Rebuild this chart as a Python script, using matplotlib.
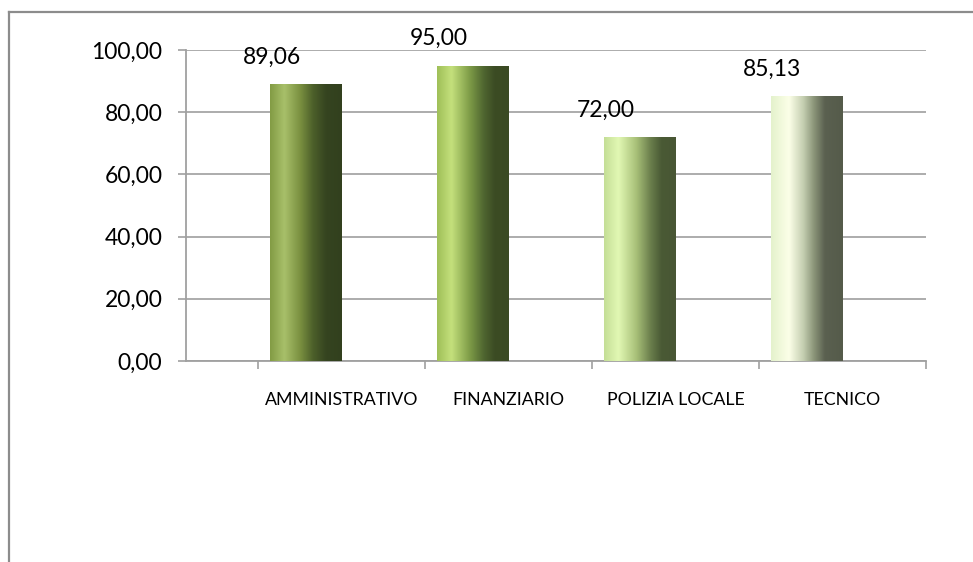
import numpy as np
import matplotlib
matplotlib.use("Agg")
import matplotlib.pyplot as plt
from matplotlib.colors import LinearSegmentedColormap
from matplotlib.lines import Line2D

categories = ["AMMINISTRATIVO", "FINANZIARIO", "POLIZIA LOCALE", "TECNICO"]
values = [89.06, 95.00, 72.00, 85.13]
value_labels = ["89,06", "95,00", "72,00", "85,13"]
yticks = [0, 20, 40, 60, 80, 100]
ytick_labels = ["0,00", "20,00", "40,00", "60,00", "80,00", "100,00"]

gradients = [
    [(0.0, "#829b44"), (0.2, "#a8c06a"), (0.42, "#7a9040"), (0.6, "#4c5f2a"), (0.78, "#354420"), (1.0, "#32401e")],
    [(0.0, "#9fbf58"), (0.2, "#c4e07c"), (0.45, "#7f9d48"), (0.65, "#4f6630"), (0.8, "#3c4c24"), (1.0, "#3a4a23")],
    [(0.0, "#c4de96"), (0.2, "#e2f8b4"), (0.45, "#a8c078"), (0.65, "#6a7e4c"), (0.8, "#4a5a35"), (1.0, "#485634")],
    [(0.0, "#e4f2cc"), (0.25, "#fcffe8"), (0.45, "#c4ceb0"), (0.6, "#8a9478"), (0.75, "#5a6050"), (1.0, "#555b4a")],
]

FONT = "Lato"
plt.rcParams["font.family"] = [FONT, "DejaVu Sans"]

W, H = 973, 562
fig = plt.figure(figsize=(W / 100, H / 100), dpi=100)
fig.patch.set_facecolor("white")

# outer frame
fig.add_artist(Line2D([9 / W, 1.0], [1 - 12 / H, 1 - 12 / H], transform=fig.transFigure, color="#8c8c8c", lw=1.6))
fig.add_artist(Line2D([9 / W, 9 / W], [1 - 12 / H, 0.0], transform=fig.transFigure, color="#8c8c8c", lw=1.6))

left, right = 186 / W, 926 / W
bottom, top = (H - 361) / H, (H - 50) / H
ax = fig.add_axes([left, bottom, right - left, top - bottom])

unit = 167.0
span = (926 - 186) / unit
x = np.arange(len(categories))
shift = 36 / unit
bw = 72 / unit

ax.set_xlim(3.5 - span, 3.5)
ax.set_ylim(0, 100)

for spine in ["top", "right"]:
    ax.spines[spine].set_visible(False)
ax.spines["left"].set_color("#a0a0a0")
ax.spines["left"].set_linewidth(1.3)
ax.spines["bottom"].set_color("#a0a0a0")
ax.spines["bottom"].set_linewidth(1.3)

ax.set_yticks(yticks)
ax.set_yticklabels(ytick_labels, fontsize=16.5, color="#000000")
ax.tick_params(axis="y", length=6, width=1.2, color="#a0a0a0", pad=11)
ax.yaxis.grid(True, color="#a6a6a6", lw=1.3)
ax.set_axisbelow(True)

ax.set_xticks(x)
ax.set_xticklabels(categories, fontsize=12.8, color="#000000")
ax.tick_params(axis="x", which="major", length=0, pad=22)
ax.set_xticks(np.arange(-0.5, len(categories), 1.0), minor=True)
ax.tick_params(axis="x", which="minor", length=6, width=1.2, color="#a0a0a0")

bars = ax.bar(x - shift, values, width=bw, color="none", edgecolor="none", zorder=3)

for bar, stops in zip(bars, gradients):
    cmap = LinearSegmentedColormap.from_list("g", stops)
    grad = np.linspace(0, 1, 256).reshape(1, -1)
    x0, y0 = bar.get_x(), bar.get_y()
    w, h = bar.get_width(), bar.get_height()
    im = ax.imshow(grad, cmap=cmap, aspect="auto", extent=[x0, x0 + w, y0, y0 + h],
                   zorder=3, interpolation="bicubic")
    im.set_clip_path(bar)

ax.set_xlim(3.5 - span, 3.5)
ax.set_ylim(0, 100)

for bar, lab in zip(bars, value_labels):
    cx = bar.get_x() + bar.get_width() / 2
    ax.annotate(lab, (cx, bar.get_height()), xytext=(-34, 27), textcoords="offset pixels",
                ha="center", va="center", fontsize=16.5, color="#000000", zorder=5,
                annotation_clip=False)

fig.savefig("out.png", dpi=100, facecolor="white")
